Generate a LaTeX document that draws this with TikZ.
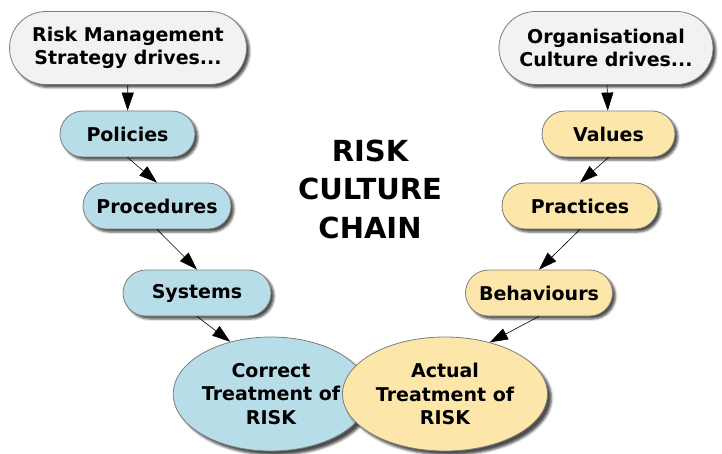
\documentclass[tikz,border=0pt]{standalone}
\usepackage{fontspec}
\setmainfont{DejaVu Sans}
\usetikzlibrary{shapes.misc,shapes.geometric,shadows.blur,arrows.meta}

\definecolor{pillblue}{RGB}{183,221,232}
\definecolor{pillyellow}{RGB}{252,230,170}
\definecolor{pillwhite}{RGB}{242,242,242}
\definecolor{rimgray}{RGB}{125,125,125}

\tikzset{
  pill/.style={rounded rectangle, draw=rimgray, line width=0.8pt, inner sep=0pt,
    align=center, font=\fontsize{19}{23}\selectfont\bfseries,
    blur shadow={shadow xshift=3pt, shadow yshift=-3pt, shadow opacity=70}},
  oval/.style={ellipse, draw=rimgray, line width=0.8pt, inner sep=0pt,
    align=center, font=\fontsize{19}{23.5}\selectfont\bfseries,
    minimum height=114pt,
    blur shadow={shadow xshift=4pt, shadow yshift=-4pt, shadow opacity=70}},
  link/.style={-{Triangle[length=18pt,width=12pt]}, line width=0.6pt},
}

\begin{document}
\begin{tikzpicture}[x=1pt, y=-1pt]
  \useasboundingbox (0,0) rectangle (722,454);

  % Strategy side
  \node[pill, fill=pillwhite, minimum width=237pt, minimum height=73pt] (strat) at (128,48) {Risk Management\\Strategy drives...};
  \node[pill, fill=pillblue, minimum width=135pt, minimum height=46pt] (pol) at (127.5,134) {Policies};
  \node[pill, fill=pillblue, minimum width=148pt, minimum height=46pt] (proc) at (157,206) {Procedures};
  \node[pill, fill=pillblue, minimum width=148pt, minimum height=46pt] (sys) at (197,293) {Systems};

  % Culture side
  \node[pill, fill=pillwhite, minimum width=214pt, minimum height=73pt] (org) at (606,48) {Organisational\\Culture drives...};
  \node[pill, fill=pillyellow, minimum width=133pt, minimum height=46pt] (val) at (608.5,134) {Values};
  \node[pill, fill=pillyellow, minimum width=156pt, minimum height=46pt] (prac) at (580,206) {Practices};
  \node[pill, fill=pillyellow, minimum width=147pt, minimum height=46pt] (beh) at (539,293) {Behaviours};

  % Treatment of risk
  \node[oval, fill=pillblue, minimum width=192pt] (corr) at (271,394) {Correct\\Treatment of\\RISK};
  \node[oval, fill=pillyellow, minimum width=205pt] (act) at (445,394) {Actual\\Treatment of\\RISK};

  \node[align=center, font=\fontsize{29}{38.5}\selectfont\bfseries] (title) at (370,189) {RISK\\CULTURE\\CHAIN};

  \draw [link] (strat) -- (pol);
  \draw [link] (pol.south) -- (proc.north);
  \draw [link] (proc.south) -- (sys.north);
  \draw [link] (sys.south) -- (corr.128);

  \draw [link] (org) -- (val);
  \draw [link] (val.south) -- (prac.north);
  \draw [link] (prac.south) -- (beh.north);
  \draw [link] (beh.south) -- (act.49);
\end{tikzpicture}
\end{document}
